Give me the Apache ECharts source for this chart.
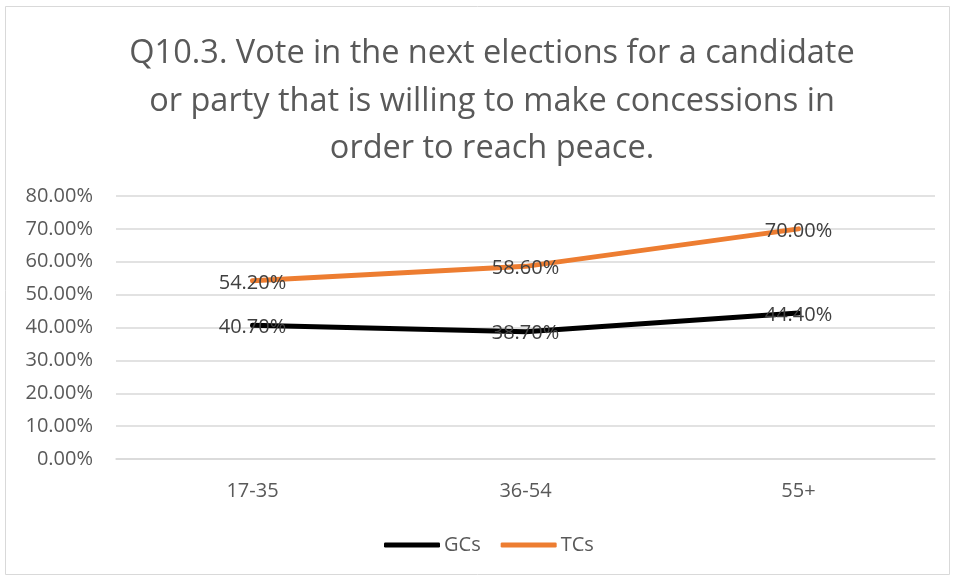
<!DOCTYPE html>
<html>
<head>
<meta charset="utf-8">
<script src="https://cdn.jsdelivr.net/npm/echarts@6/dist/echarts.min.js"></script>
<style>
  html, body { margin: 0; padding: 0; background: #fff; }
  #chart { width: 956px; height: 581px; }
</style>
</head>
<body>
<div id="chart"></div>
<script>
// Age groups along the x axis
const categories = ['17-35', '36-54', '55+'];
// Share (%) willing to vote for a concession-minded candidate or party
const gcValues = [40.7, 38.7, 44.4];
const tcValues = [54.2, 58.6, 70.0];
const seriesNames = ['GCs', 'TCs'];
const titleLines = [
  'Q10.3. Vote in the next elections for a candidate',
  'or party that is willing to make concessions in',
  'order to reach peace.'
];

const FONT = '"Open Sans", "Noto Sans", sans-serif';
const TXT = 20;
const chart = echarts.init(document.getElementById('chart'), null, { renderer: 'canvas' });

const labelCfg = {
  show: true,
  position: 'inside',
  offset: [0, 2],
  formatter: p => p.value.toFixed(2) + '%',
  color: '#404040',
  fontSize: TXT,
  fontFamily: FONT
};

chart.setOption({
  animation: false,
  backgroundColor: '#ffffff',
  graphic: [
    {
      type: 'rect',
      shape: { x: 5.5, y: 6.5, width: 944, height: 568 },
      style: { fill: 'none', stroke: '#d9d9d9', lineWidth: 1 },
      silent: true
    },
    {
      type: 'text',
      style: {
        text: titleLines.join('\n'),
        x: 492, y: 30,
        textAlign: 'center',
        textVerticalAlign: 'top',
        fill: '#595959',
        font: '32.5px ' + FONT,
        lineHeight: 47.5
      },
      silent: true
    }
  ],
  legend: {
    data: seriesNames,
    bottom: 21,
    left: 379,
    itemWidth: 56,
    itemHeight: 5,
    itemGap: 20,
    icon: 'roundRect',
    textStyle: { color: '#595959', fontSize: TXT, fontFamily: FONT, padding: [0, 0, 0, -1] }
  },
  grid: { left: 116, right: 21, top: 196, bottom: 122, containLabel: false },
  xAxis: {
    type: 'category',
    data: categories,
    boundaryGap: true,
    axisLine: { show: true, lineStyle: { color: '#d9d9d9', width: 1.5 } },
    axisTick: { show: false },
    axisLabel: { color: '#595959', fontSize: TXT, fontFamily: FONT, margin: 22 }
  },
  yAxis: {
    type: 'value',
    min: 0, max: 80, interval: 10,
    axisLine: { show: false },
    axisTick: { show: false },
    splitLine: { lineStyle: { color: '#d9d9d9', width: 1.5 } },
    axisLabel: {
      color: '#595959', fontSize: TXT, fontFamily: FONT, margin: 23,
      formatter: v => v.toFixed(2) + '%'
    }
  },
  series: [
    {
      name: seriesNames[0],
      type: 'line',
      data: gcValues,
      symbol: 'circle',
      symbolSize: 0.1,
      color: '#000000',
      lineStyle: { color: '#000000', width: 5, cap: 'round', join: 'round' },
      label: labelCfg
    },
    {
      name: seriesNames[1],
      type: 'line',
      data: tcValues,
      symbol: 'circle',
      symbolSize: 0.1,
      color: '#ed7d31',
      lineStyle: { color: '#ed7d31', width: 5, cap: 'round', join: 'round' },
      label: labelCfg
    }
  ]
});
</script>
</body>
</html>
